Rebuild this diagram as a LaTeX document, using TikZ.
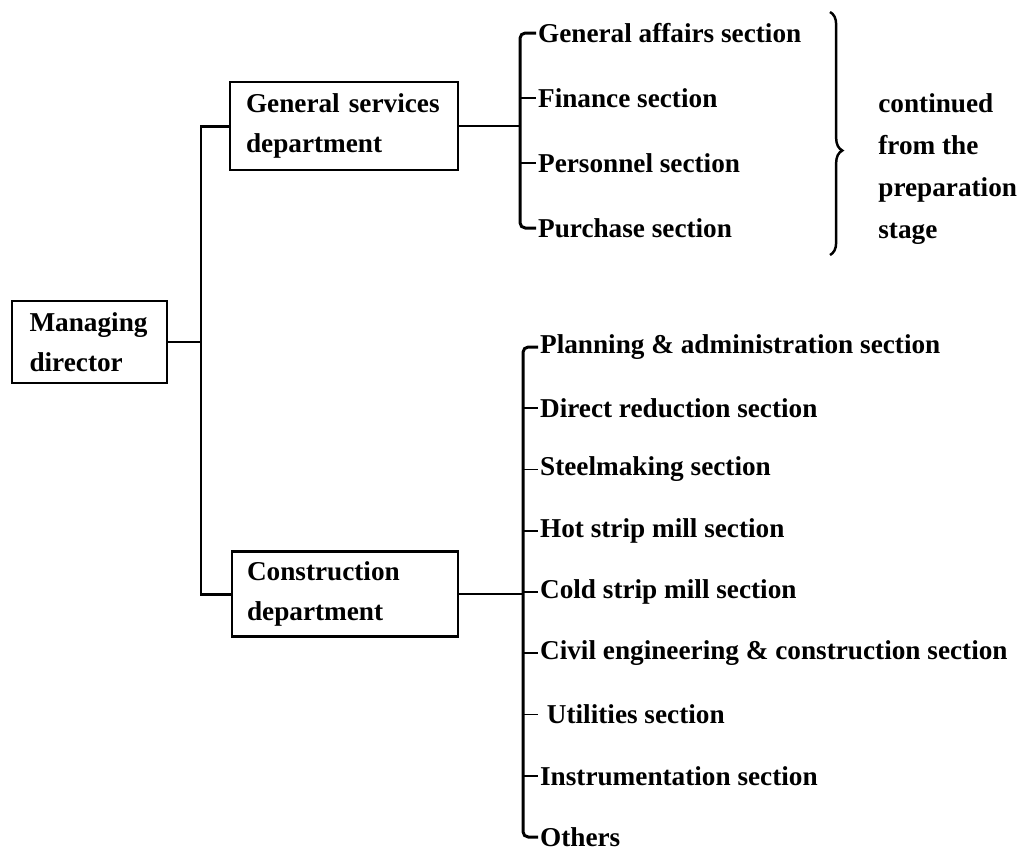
\documentclass[tikz,border=0pt]{standalone}
\usepackage{fontspec}
\setmainfont{Liberation Serif}
\usetikzlibrary{decorations.pathreplacing}

\tikzset{
  unit/.style={draw, line width=1.2pt, align=left, inner ysep=0pt,
    font=\bfseries\fontsize{15.5}{22.5}\selectfont},
  sect/.style={anchor=west, inner sep=1pt, font=\bfseries\fontsize{15.5}{18}\selectfont},
  link/.style={line width=1pt},
  bus/.style={line width=1.7pt, rounded corners=3pt},
}

\begin{document}
\begin{tikzpicture}[x=0.02cm, y=-0.02cm]
  \useasboundingbox (0,0) rectangle (1030,850);
  % boxes
  \node[unit, text width=2.4cm, inner xsep=0.35cm, minimum height=1.64cm] (md) at (89.5,342) {Managing\\director};
  \node[unit, text width=3.92cm, inner xsep=0.32cm, minimum height=1.76cm] (gs) at (344,126) {General services\\department};
  \node[unit, text width=3.92cm, inner xsep=0.30cm, minimum height=1.70cm] (cd) at (345,594) {Construction\\department};
  \coordinate (trunk) at (201,0);
  \coordinate (gbus) at (520,0);
  \coordinate (cbus) at (523,0);
  % trunk
  \draw[bus, rounded corners=0pt] (gs.west) -- (gs.west -| trunk) -- (cd.west -| trunk) -- (cd.west);
  \draw[link] (md.east) -- (md.east -| trunk);
  % general services sections
  \foreach \n/\y/\t in {ga/33/General affairs section, fi/98/Finance section,
      pe/163/Personnel section, pu/228/Purchase section}
    \node[sect] (\n) at (536,\y) {\t};
  \draw[bus] (ga.west) -- (ga.west -| gbus) -- (pu.west -| gbus) -- (pu.west);
  \draw[link] (fi.west -| gbus) -- (fi.west);
  \draw[link] (pe.west -| gbus) -- (pe.west);
  \draw[link] (gs.east) -- (gs.east -| gbus);
  % construction sections
  \foreach \n/\k/\t in {pl/0/Planning \& administration section, dr/1/Direct reduction section,
      st/2/Steelmaking section, hs/3/Hot strip mill section, cs/4/Cold strip mill section,
      ce/5/Civil engineering \& construction section, ut/6/\ Utilities section,
      in/7/Instrumentation section, ot/8/Others}
    \node[sect] (\n) at (538,347+61.25*\k) {\t};
  \draw[bus] (pl.west) -- (pl.west -| cbus) -- (ot.west -| cbus) -- (ot.west);
  \foreach \n in {dr,st,hs,cs,ce,ut,in}
    \draw[link] (\n.west -| cbus) -- (\n.west);
  \draw[link] (cd.east) -- (cd.east -| cbus);
  % note
  \draw[line width=1.4pt, decorate, decoration={brace, amplitude=7pt, aspect=0.57}] (830,12) -- (830,255);
  \node[anchor=west, align=left, inner sep=0pt,
    font=\bfseries\fontsize{15.5}{23.8}\selectfont] (note) at (878,169) {continued\\from the\\preparation\\stage};
\end{tikzpicture}
\end{document}
